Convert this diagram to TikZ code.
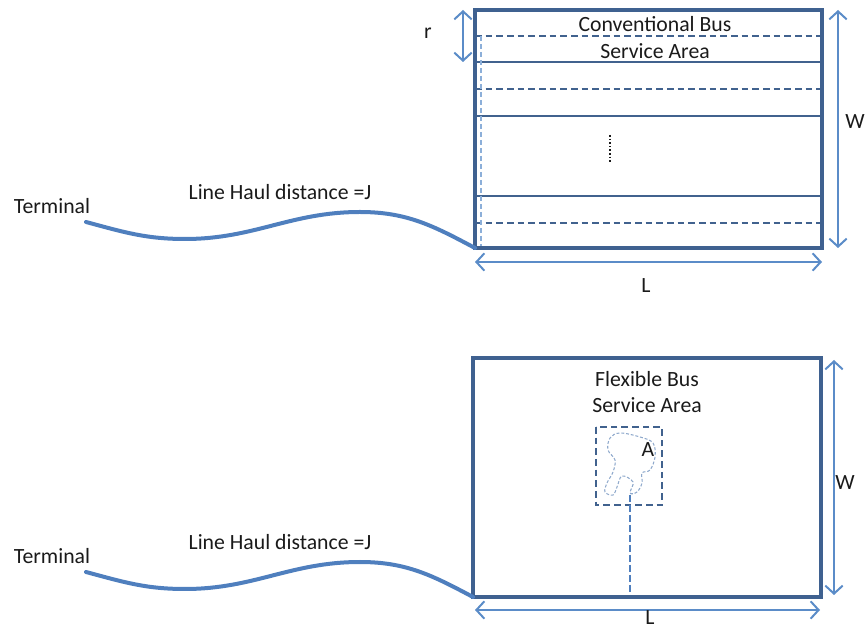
\documentclass[tikz,border=0pt]{standalone}
\usepackage{fontspec}
\setmainfont{Carlito}
\usetikzlibrary{arrows.meta}
\definecolor{frame}{HTML}{3F6190}
\definecolor{dim}{HTML}{5B8CC8}
\definecolor{haul}{HTML}{4F7FBE}
\definecolor{lane}{HTML}{41628E}
\definecolor{blob}{HTML}{8FA9CC}
\definecolor{txt}{HTML}{1A1A1A}
\begin{document}
\begin{tikzpicture}[x=0.75pt,y=-0.75pt,
  lbl/.style={font=\fontsize{16.3}{19}\selectfont, text=txt, inner sep=0pt},
  area/.style={draw=frame, line width=2.6pt},
  lanesolid/.style={draw=lane, line width=1.1pt},
  lanedash/.style={draw=lane, line width=1.3pt, dash pattern=on 5pt off 3pt},
  dimarrow/.style={draw=dim, line width=1.5pt,
    {Straight Barb[length=6pt,width=13pt]}-{Straight Barb[length=6pt,width=13pt]}},
  haulline/.style={draw=haul, line width=3pt, line cap=round},
]
\useasboundingbox (0,0) rectangle (868,630);

% ---------------- conventional bus service area ----------------
\coordinate (cnw) at (475,10);
\coordinate (cse) at (822,248);
\coordinate (csw) at (475,248);
\coordinate (cne) at (822,10);

% lane boundaries
\draw[lanedash]  (475,36)  -- (822,36);
\draw[lanesolid] (475,62)  -- (822,62);
\draw[lanedash]  (475,89)  -- (822,89);
\draw[lanesolid] (475,116) -- (822,116);
\draw[lanesolid] (475,196) -- (822,196);
\draw[lanedash]  (475,223) -- (822,223);
% feeder street along the left edge
\draw[draw=dim!70, line width=0.9pt, dash pattern=on 4pt off 2pt] (481,36) -- (481,247);
% omitted lanes
\draw[draw=txt, line width=1.4pt, dash pattern=on 1.2pt off 1.5pt] (610,135) -- (610,163);

\draw[area] (cnw) rectangle (cse);

\node[lbl] (conv1) at (655,24) {Conventional Bus};
\node[lbl] (conv2) at (655,51) {Service Area};

% dimensions
\coordinate (rtop) at (463,10);
\coordinate (rbot) at (463,62);
\draw[dimarrow] (rtop) -- (rbot);
\node[lbl] (rlab) at (428,33) {r};

\coordinate (wtop) at (838,10);
\coordinate (wbot) at (838,248);
\draw[dimarrow] (wtop) -- (wbot);
\node[lbl] (wlab1) at (855,122) {W};

\coordinate (lleft) at (475,262);
\coordinate (lright) at (822,262);
\draw[dimarrow] (lleft) -- (lright);
\node[lbl] (llab1) at (646,286) {L};

% line haul
\node[lbl] (term1) at (52,206) {Terminal};
\node[lbl] (haul1) at (280,192) {Line Haul distance =J};
\coordinate (h1a) at (86,222);
\coordinate (h1b) at (185,239);
\coordinate (h1c) at (360,212);
\draw[haulline] (h1a) to[out=-15,in=180] (h1b) to[out=0,in=180] (h1c)
  to[out=0,in=152] (csw);

% ---------------- flexible bus service area ----------------
\coordinate (fnw) at (473,358);
\coordinate (fse) at (821,597);
\coordinate (fsw) at (473,597);

\node[lbl] (flex1) at (647,379) {Flexible Bus};
\node[lbl] (flex2) at (647,405) {Service Area};

% zone around the demand region A
\draw[lanedash, line width=1.4pt] (596,427) rectangle (662,505);
\draw[draw=blob, line width=0.8pt, dash pattern=on 2.2pt off 1.4pt]
  plot[smooth cycle, tension=0.6] coordinates {
    (630,493) (633,482) (622,476) (617,487) (613,495) (605,492)
    (607,483) (613,472) (615,460) (608,450) (610,438) (620,433)
    (640,437) (653,443) (655,457) (650,470) (642,473) (642,483) (637,492)};
\node[lbl] (alab) at (648,450) {A};

\coordinate (feedtop) at (630,495);
\coordinate (feedbot) at (630,597);
\draw[draw=haul, line width=2pt, dash pattern=on 5pt off 2.5pt] (feedtop) -- (feedbot);

\draw[area] (fnw) rectangle (fse);

\coordinate (w2top) at (834,360);
\coordinate (w2bot) at (834,595);
\draw[dimarrow] (w2top) -- (w2bot);
\node[lbl] (wlab2) at (845,483) {W};

\coordinate (l2left) at (475,610);
\coordinate (l2right) at (820,610);
\draw[dimarrow] (l2left) -- (l2right);
\node[lbl] (llab2) at (650,618) {L};

\node[lbl] (term2) at (52,556) {Terminal};
\node[lbl] (haul2) at (280,542) {Line Haul distance =J};
\coordinate (h2a) at (86,572);
\coordinate (h2b) at (185,589);
\coordinate (h2c) at (360,562);
\draw[haulline] (h2a) to[out=-15,in=180] (h2b) to[out=0,in=180] (h2c)
  to[out=0,in=152] (fsw);
\end{tikzpicture}
\end{document}
